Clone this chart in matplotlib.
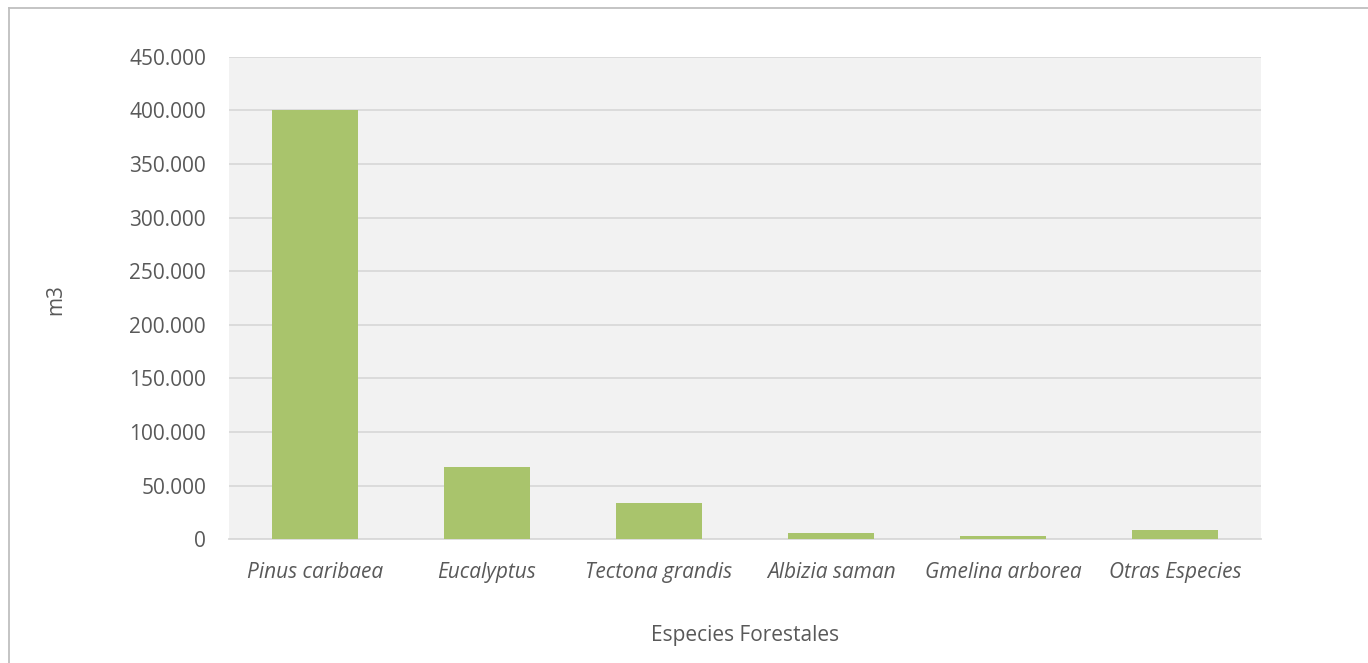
import matplotlib
matplotlib.use("Agg")
import matplotlib.pyplot as plt
from matplotlib.ticker import FuncFormatter, MultipleLocator
from matplotlib.lines import Line2D

categories = ["Pinus caribaea", "Eucalyptus", "Tectona grandis", "Albizia saman",
              "Gmelina arborea", "Otras Especies"]
volumes = [400000, 67200, 33600, 6000, 2800, 8700]
y_label = "m3"
x_label = "Especies Forestales"

plt.rcParams['font.family'] = ['Open Sans', 'DejaVu Sans']
text_color = "#595959"
fs = 15

fig = plt.figure(figsize=(13.68, 6.63), dpi=100)
ax = fig.add_axes([229/1368, 1-539.3/663, (1261-229)/1368, (539.3-56.6)/663])
ax.set_facecolor("#F2F2F2")

x = list(range(len(categories)))
ax.bar(x, volumes, width=0.5, color="#A9C46C", zorder=3)
ax.set_xlim(-0.5, len(categories) - 0.5)
ax.set_ylim(0, 450000)
ax.yaxis.set_major_locator(MultipleLocator(50000))
ax.yaxis.set_major_formatter(FuncFormatter(lambda v, p: f"{int(v):,}".replace(",", ".")))
ax.grid(axis="y", color="#D9D9D9", linewidth=1.3, zorder=1)
ax.set_axisbelow(True)
for s in ["top", "right", "left"]:
    ax.spines[s].set_visible(False)
ax.spines["bottom"].set_color("#D9D9D9")
ax.spines["bottom"].set_linewidth(1.3)
ax.tick_params(axis="both", length=0, colors=text_color, labelsize=fs)
ax.tick_params(axis="y", pad=16.5)
ax.tick_params(axis="x", pad=16)
ax.set_xticks(x)
ax.set_xticklabels(categories, style="italic", fontsize=fs, color=text_color)

fig.text(56/1368, 1-300/663, y_label, rotation=90, ha="center", va="center",
         fontsize=fs, color=text_color)
fig.text(745/1368, 1-636/663, x_label, ha="center", va="center",
         fontsize=fs, color=text_color)

# outer chart border (top and left visible)
fig.add_artist(Line2D([9/1368, 1.01], [1-7.5/663, 1-7.5/663], transform=fig.transFigure,
                      color="#BFBFBF", linewidth=1.3))
fig.add_artist(Line2D([9/1368, 9/1368], [-0.01, 1-7.5/663], transform=fig.transFigure,
                      color="#BFBFBF", linewidth=1.3))

fig.savefig("out.png", dpi=100, facecolor="white")
